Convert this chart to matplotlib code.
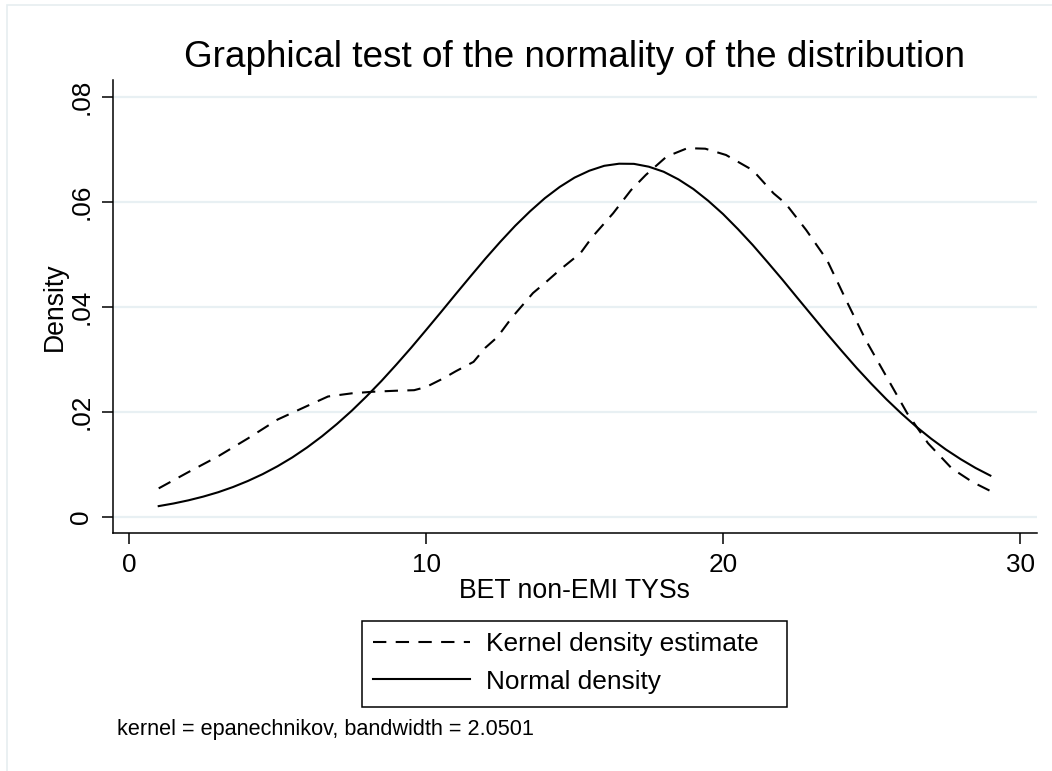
import matplotlib
matplotlib.use("Agg")
import matplotlib.pyplot as plt
from matplotlib.patches import Rectangle

plt.rcParams['font.family'] = ['Liberation Sans', 'DejaVu Sans']

# ---- data ----
title = "Graphical test of the normality of the distribution"
xlabel = "BET non-EMI TYSs"
ylabel = "Density"
note = "kernel = epanechnikov, bandwidth = 2.0501"
legend_labels = ["Kernel density estimate", "Normal density"]

kde_x = [1.0, 2.0, 3.0, 4.0, 5.0, 6.0, 6.7, 7.5, 8.2, 9.0, 9.6, 10.0, 10.6, 11.0,
         11.6, 12.0, 12.4, 12.9, 13.6, 14.0, 14.5, 15.2, 15.6, 16.3, 16.9, 17.4,
         18.1, 18.8, 19.4, 20.1, 21.0, 21.7, 22.1, 22.8, 23.5, 24.2, 24.8, 25.5,
         26.2, 26.9, 27.7, 28.4, 29.0]
kde_y = [0.0054, 0.0085, 0.0115, 0.0149, 0.0185, 0.0211, 0.0229, 0.0235, 0.0238,
         0.0240, 0.0241, 0.0247, 0.0264, 0.0277, 0.0295, 0.0322, 0.0342, 0.0380,
         0.0426, 0.0445, 0.0470, 0.0502, 0.0533, 0.0578, 0.0622, 0.0651, 0.0686,
         0.0702, 0.0701, 0.0689, 0.0660, 0.0616, 0.0597, 0.0546, 0.0489, 0.0406,
         0.0337, 0.0267, 0.0197, 0.0140, 0.0092, 0.0066, 0.0049]

norm_x = [1.0, 1.5, 2.0, 2.5, 3.0, 3.5, 4.0, 4.5, 5.0, 5.5, 6.0, 6.5, 7.0, 7.5,
          8.0, 8.5, 9.0, 9.5, 10.0, 10.5, 11.0, 11.5, 12.0, 12.5, 13.0, 13.5,
          14.0, 14.5, 15.0, 15.5, 16.0, 16.5, 17.0, 17.5, 18.0, 18.5, 19.0, 19.5,
          20.0, 20.5, 21.0, 21.5, 22.0, 22.5, 23.0, 23.5, 24.0, 24.5, 25.0, 25.5,
          26.0, 26.5, 27.0, 27.5, 28.0, 28.5, 29.0]
norm_y = [0.00202, 0.00252, 0.00312, 0.00383, 0.00466, 0.00565, 0.00680, 0.00811,
          0.00961, 0.01130, 0.01321, 0.01533, 0.01766, 0.02019, 0.02294, 0.02586,
          0.02897, 0.03219, 0.03555, 0.03895, 0.04240, 0.04580, 0.04916, 0.05236,
          0.05540, 0.05816, 0.06067, 0.06281, 0.06459, 0.06591, 0.06684, 0.06724,
          0.06721, 0.06667, 0.06571, 0.06425, 0.06242, 0.06018, 0.05765, 0.05479,
          0.05175, 0.04848, 0.04515, 0.04170, 0.03828, 0.03486, 0.03155, 0.02832,
          0.02527, 0.02237, 0.01968, 0.01717, 0.01489, 0.01281, 0.01096, 0.00929,
          0.00783]

xticks = [0, 10, 20, 30]
yticks = [0, 0.02, 0.04, 0.06, 0.08]
yticklabels = ["0", ".02", ".04", ".06", ".08"]

# ---- figure ----
W, H = 1052, 771
fig = plt.figure(figsize=(W / 100, H / 100), dpi=100)
fig.patch.set_facecolor('white')

L, R, T, B = 112.7, 1036.7, 79.6, 533.3
ax = fig.add_axes([L / W, 1 - B / H, (R - L) / W, (B - T) / H])

# outer graph-region border (light)
fig.patches.append(Rectangle((7 / W, -0.05), 1.2, 1 - 5 / H + 0.05,
                             transform=fig.transFigure, fill=False,
                             edgecolor='#E6EDF0', linewidth=1.2))

grid_color = '#E8F0F3'
for yv in yticks:
    ax.axhline(yv, color=grid_color, linewidth=1.6, zorder=0)

l1, = ax.plot(kde_x, kde_y, color='black', linewidth=1.5, dashes=(6.4, 4.5),
              label=legend_labels[0], zorder=3)
l2, = ax.plot(norm_x, norm_y, color='black', linewidth=1.5,
              label=legend_labels[1], zorder=3)

ax.set_xlim(-0.549, 30.56)
ax.set_ylim(-0.00316, 0.08326)

for s in ['top', 'right']:
    ax.spines[s].set_visible(False)
for s in ['left', 'bottom']:
    ax.spines[s].set_linewidth(1.1)
    ax.spines[s].set_color('black')

ax.set_xticks(xticks)
ax.set_xticklabels([str(v) for v in xticks])
ax.set_yticks(yticks)
ax.set_yticklabels(yticklabels, rotation=90, va='center')
ax.tick_params(axis='both', direction='out', length=8, width=1.1,
               labelsize=18.8, colors='black', pad=6)

ax.set_xlabel(xlabel, fontsize=19.2, va='center')
ax.xaxis.set_label_coords(0.5, -(591 - B) / (B - T))
ax.set_ylabel(ylabel, fontsize=19.2, va='center')
ax.yaxis.set_label_coords(-(L - 55) / (R - L), 0.5)

fig.text((L + R) / 2 / W, 1 - 66.7 / H, title, fontsize=26.6,
         ha='center', va='baseline')

# legend: frame drawn as a separate box, entries placed inside
fig.patches.append(Rectangle((362 / W, 1 - 707 / H), (787 - 362) / W,
                             (707 - 621) / H, transform=fig.transFigure,
                             fill=False, edgecolor='black', linewidth=1.1))
leg = fig.legend(handles=[l1, l2], loc='center left',
                 bbox_to_anchor=(373 / W, 1 - 663 / H),
                 fontsize=18.9, frameon=False, handlelength=3.7,
                 handletextpad=0.62, borderpad=0, labelspacing=0.5,
                 borderaxespad=0)

fig.text(117 / W, 1 - 730 / H, note, fontsize=15.6, ha='left', va='center')

fig.savefig('out.png', dpi=100, facecolor='white')
